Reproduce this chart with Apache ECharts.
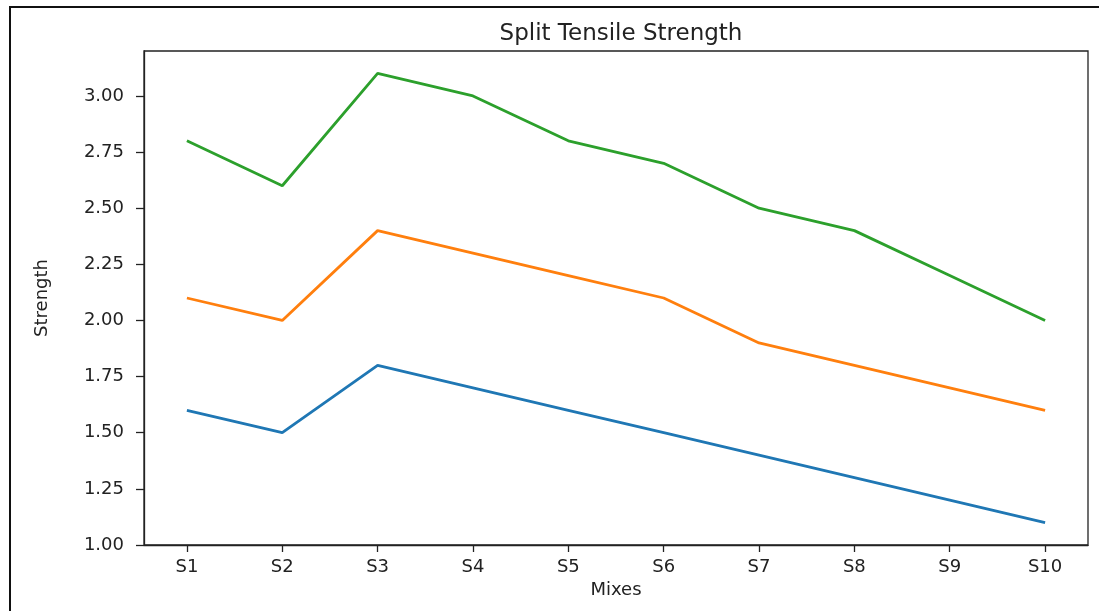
<!DOCTYPE html>
<html>
<head>
    <meta charset="utf-8">
    <script src="https://cdn.jsdelivr.net/npm/echarts@6/dist/echarts.min.js"></script>
    <style>
        body { margin: 0; background: #fff; }
        #frame { position: absolute; left: 9px; top: 6px; width: 1100px; height: 620px;
                 border-left: 2px solid #111; border-top: 2px solid #111; }
        #main { position: absolute; left: 0; top: 0; width: 1099px; height: 611px; }
    </style>
</head>
<body>
    <div id="frame"></div>
    <div id="main"></div>

    <script type="text/javascript">
        var mixes = ['S1', 'S2', 'S3', 'S4', 'S5', 'S6', 'S7', 'S8', 'S9', 'S10'];
        var blueLine   = [1.6, 1.5, 1.8, 1.7, 1.6, 1.5, 1.4, 1.3, 1.2, 1.1];
        var orangeLine = [2.1, 2.0, 2.4, 2.3, 2.2, 2.1, 1.9, 1.8, 1.7, 1.6];
        var greenLine  = [2.8, 2.6, 3.1, 3.0, 2.8, 2.7, 2.5, 2.4, 2.2, 2.0];
        var yTicks = [1.00, 1.25, 1.50, 1.75, 2.00, 2.25, 2.50, 2.75, 3.00];
        var xTicks = mixes.map((m, i) => i);

        var font = 'DejaVu Sans';
        var textColor = '#222';

        function toPoints(vals) {
            return vals.map((v, i) => [i, v]);
        }

        var myChart = echarts.init(document.getElementById('main'));
        var seriesList = [
            { name: 'blue', data: blueLine, color: '#1f77b4' },
            { name: 'orange', data: orangeLine, color: '#ff7f0e' },
            { name: 'green', data: greenLine, color: '#2ca02c' }
        ].map(s => ({
            name: s.name,
            type: 'line',
            data: toPoints(s.data),
            showSymbol: false,
            silent: true,
            lineStyle: { color: s.color, width: 2.8 },
            itemStyle: { color: s.color }
        }));

        myChart.setOption({
            animation: false,
            backgroundColor: 'transparent',
            title: {
                text: 'Split Tensile Strength',
                left: 616,
                textAlign: 'center',
                top: 18,
                textStyle: { fontFamily: font, fontSize: 23, fontWeight: 'normal', color: textColor }
            },
            grid: {
                left: 144, right: 11, top: 51, bottom: 66,
                show: true, borderColor: '#222', borderWidth: 1.3
            },
            xAxis: {
                type: 'value',
                min: -0.45,
                max: 9.45,
                name: 'Mixes',
                nameLocation: 'middle',
                nameGap: 36,
                nameTextStyle: { fontFamily: font, fontSize: 18, color: textColor },
                axisLine: { show: true, onZero: false, lineStyle: { color: '#222', width: 1.3 } },
                axisTick: { show: true, length: 7, customValues: xTicks, lineStyle: { color: '#222', width: 1.3 } },
                axisLabel: {
                    customValues: xTicks,
                    margin: 13,
                    fontFamily: font, fontSize: 18, color: textColor,
                    formatter: v => mixes[Math.round(v)]
                },
                splitLine: { show: false }
            },
            yAxis: {
                type: 'value',
                min: 1.0,
                max: 3.2,
                name: 'Strength',
                nameLocation: 'middle',
                nameGap: 93,
                nameTextStyle: { fontFamily: font, fontSize: 18, color: textColor },
                axisLine: { show: true, onZero: false, lineStyle: { color: '#222', width: 1.3 } },
                axisTick: { show: true, length: 8, customValues: yTicks, lineStyle: { color: '#222', width: 1.3 } },
                axisLabel: {
                    customValues: yTicks,
                    margin: 20,
                    fontFamily: font, fontSize: 18, color: textColor,
                    formatter: v => v.toFixed(2)
                },
                splitLine: { show: false }
            },
            series: seriesList
        });
    </script>
</body>
</html>
